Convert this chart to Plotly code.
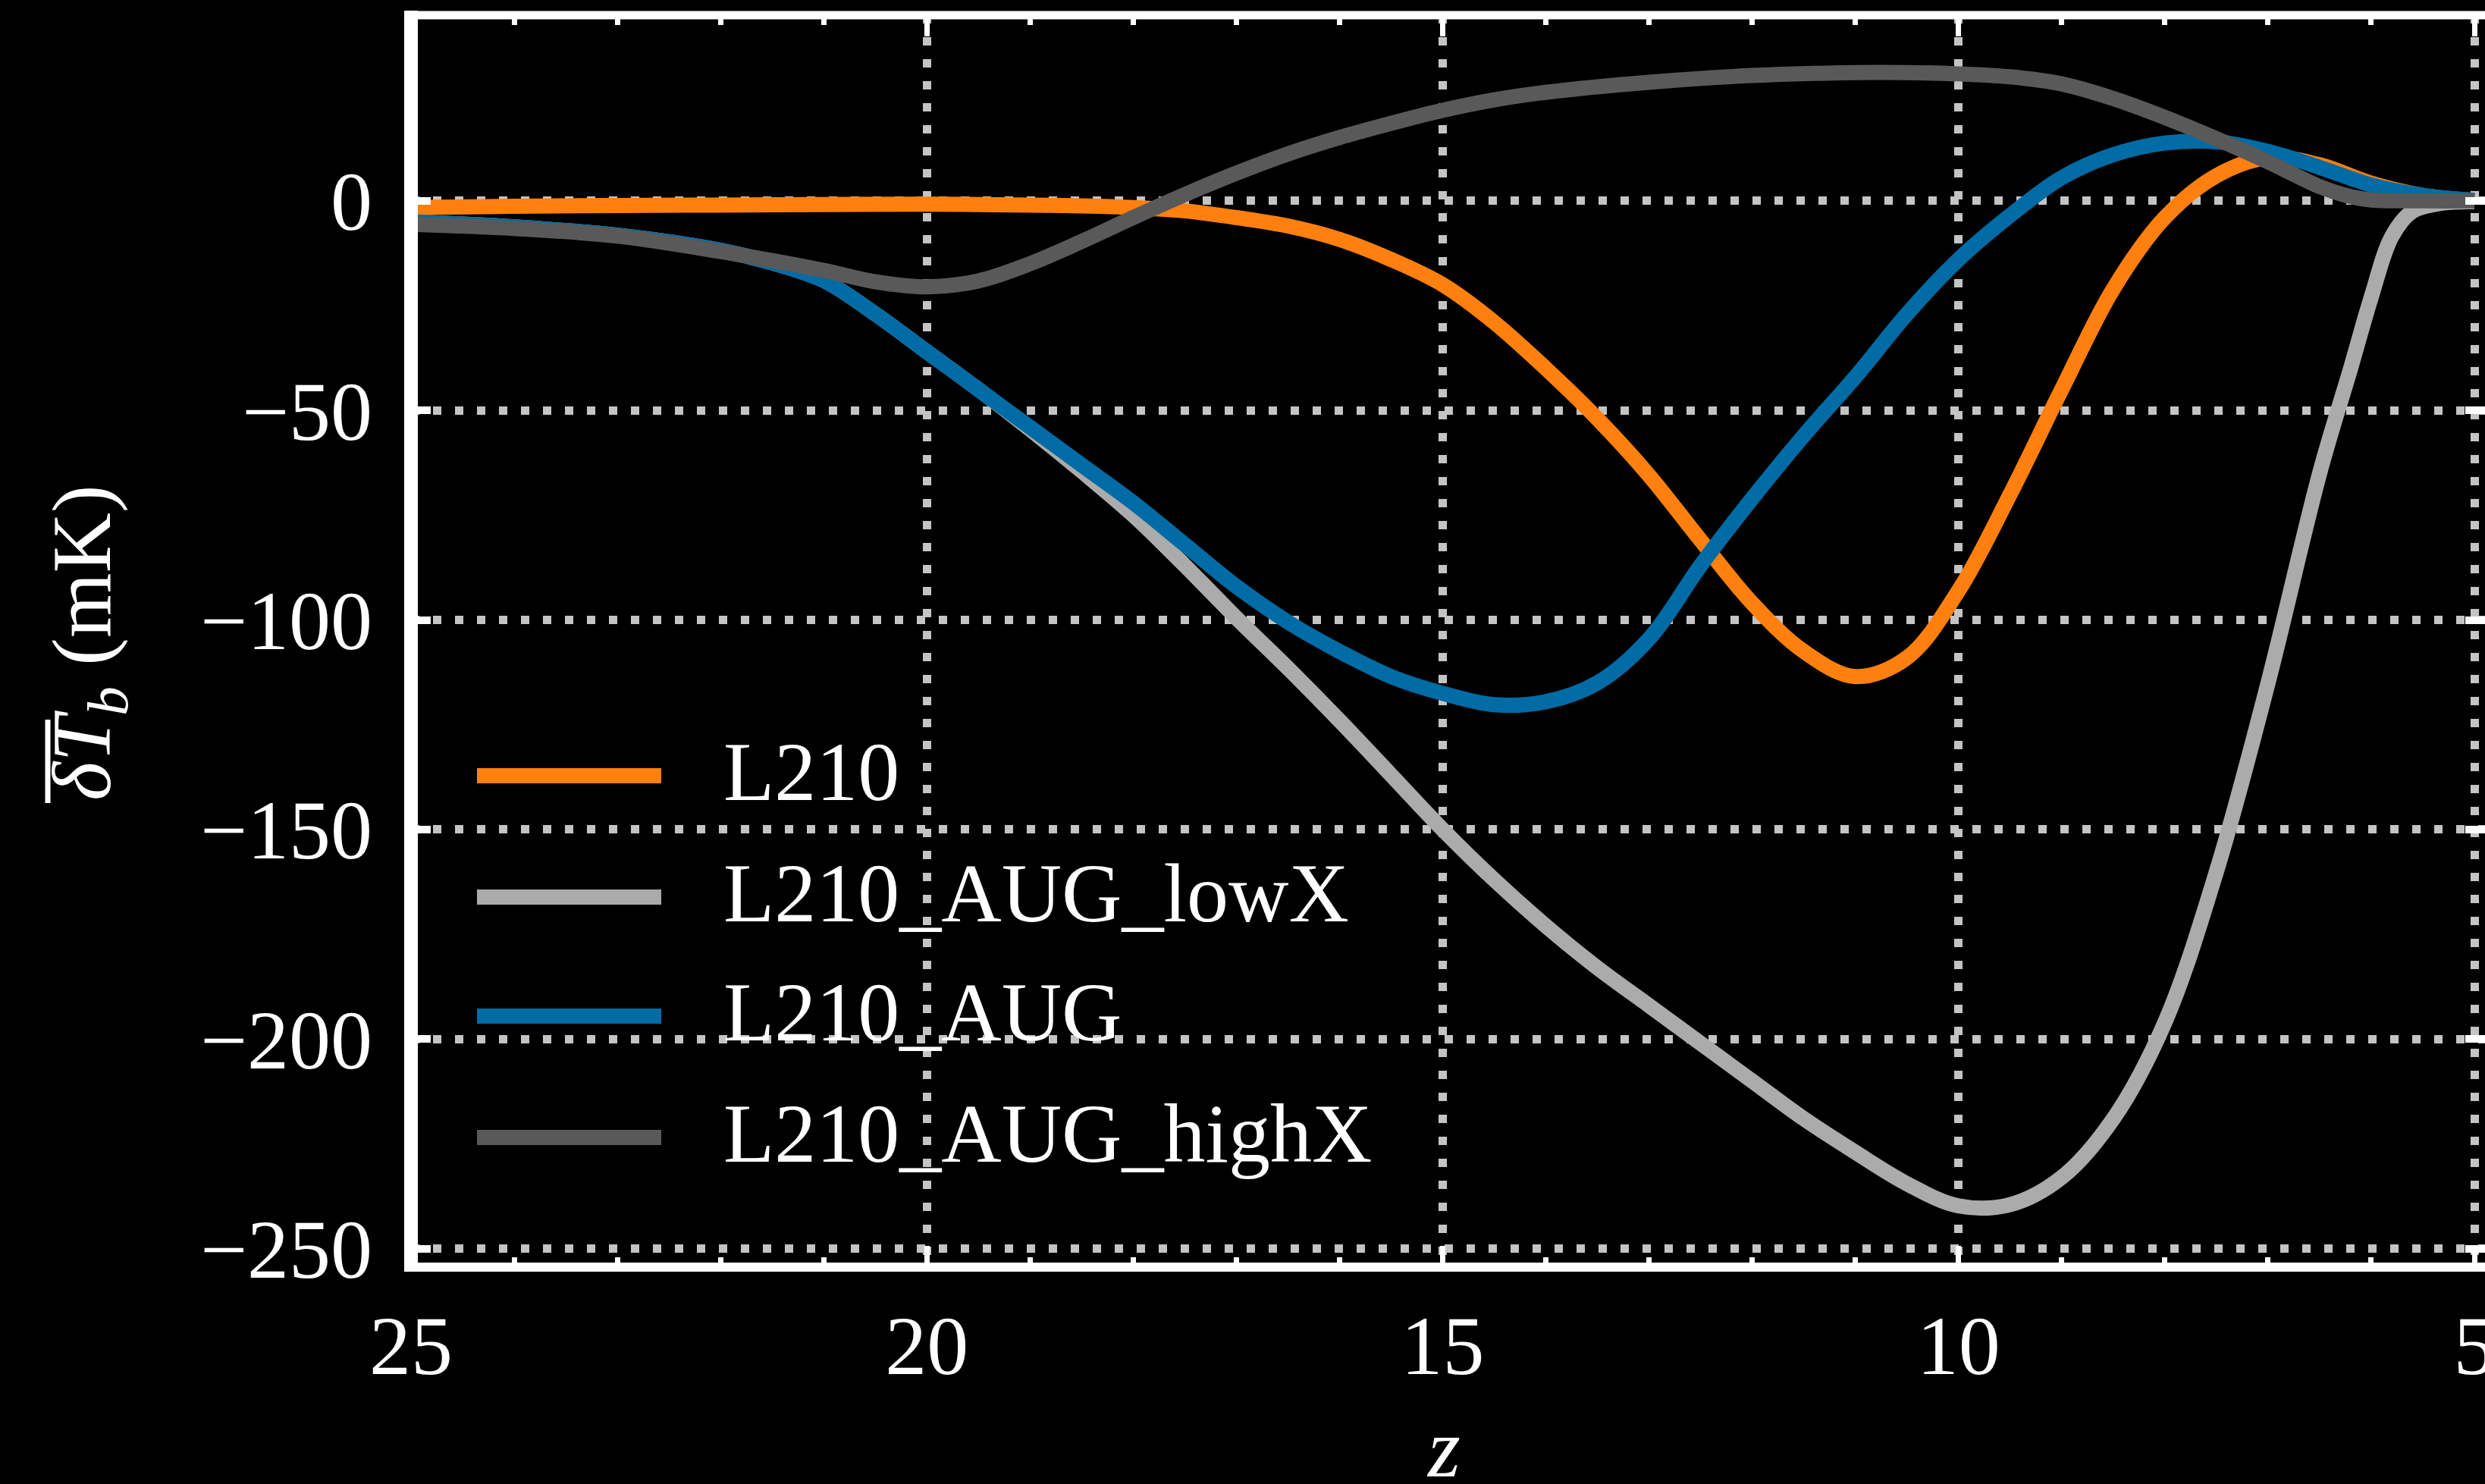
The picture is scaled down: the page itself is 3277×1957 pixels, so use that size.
import plotly.graph_objects as go

# ---- data: mean 21-cm brightness temperature vs redshift ----
z_l210 = [25, 24, 23, 22, 21, 20, 19, 18.5, 18, 17.5, 17, 16.5, 16, 15.5, 15, 14.5, 14, 13.5, 13,
          12.5, 12, 11.5, 11, 10.5, 10, 9.5, 9, 8.5, 8, 7.5, 7, 6.5, 6, 5.5, 5]
t_l210 = [-1.6, -1.3, -1.1, -1.0, -0.9, -0.8, -1.0, -1.2, -1.6, -2.4, -4.0, -6.0, -9.2, -14.0, -20.0,
          -29.0, -40.0, -52.0, -65.5, -81.0, -96.0, -107.5, -113.5, -109.0, -93.0, -70.0, -45.0, -21.0,
          -4.0, 6.0, 10.3, 8.6, 4.2, 1.3, 0.1]

z_lowx = [25, 24, 23, 22, 21.5, 21, 20.5, 20, 19.5, 19, 18.5, 18, 17.5, 17, 16.5, 16, 15.5, 15, 14.5,
          14, 13.5, 13, 12.5, 12, 11.5, 11, 10.5, 10, 9.5, 9, 8.5, 8, 7.5, 7, 6.5, 6.2, 6, 5.8, 5.6,
          5.3, 5]
t_lowx = [-5.0, -6.2, -8.2, -11.8, -14.8, -19.0, -27.0, -36.0, -45.0, -54.5, -64.5, -75.0, -87.0,
          -99.5, -111.5, -124.0, -137.0, -150.0, -162.0, -173.0, -183.0, -192.0, -201.0, -210.0,
          -219.0, -227.0, -234.5, -239.8, -239.5, -233.0, -219.0, -196.0, -160.0, -115.0, -65.0,
          -40.0, -23.0, -8.5, -2.5, -0.5, -0.2]

z_aug = [25, 24, 23, 22, 21.5, 21, 20.5, 20, 19.5, 19, 18.5, 18, 17.5, 17, 16.5, 16, 15.5, 15, 14.5,
         14, 13.5, 13, 12.5, 12, 11.5, 11, 10.5, 10, 9.5, 9, 8.5, 8, 7.5, 7, 6.5, 6, 5.5, 5]
t_aug = [-5.0, -6.2, -8.2, -11.8, -14.8, -19.0, -27.0, -36.0, -45.0, -54.0, -63.0, -72.0, -82.0,
         -92.0, -100.5, -107.5, -113.5, -117.5, -120.2, -119.5, -115.0, -104.5, -87.0, -71.0, -56.0,
         -42.0, -27.0, -14.0, -3.5, 5.5, 11.0, 13.8, 14.1, 11.8, 8.0, 3.8, 1.3, 0.1]

z_highx = [25, 24, 23, 22, 21, 20.5, 20, 19.5, 19, 18.5, 18, 17.5, 17, 16.5, 16, 15.5, 15, 14.5, 14,
           13, 12, 11, 10.5, 10, 9.5, 9, 8.5, 8, 7.5, 7, 6.5, 6.2, 6, 5.5, 5]
t_highx = [-5.6, -6.6, -8.4, -12.1, -16.6, -19.3, -20.5, -19.1, -15.0, -9.7, -4.0, 1.5, 6.6, 11.2,
           15.1, 18.5, 21.6, 24.1, 25.9, 28.3, 29.9, 30.6, 30.6, 30.3, 29.6, 27.9, 24.4, 19.9, 14.8,
           9.3, 3.4, 1.0, 0.2, 0.0, 0.0]

series_names = ["L210", "L210_AUG_lowX", "L210_AUG", "L210_AUG_highX"]
series_colors = ["#FF800E", "#ABABAB", "#006BA4", "#595959"]
series_z = [z_l210, z_lowx, z_aug, z_highx]
series_t = [t_l210, t_lowx, t_aug, t_highx]

x_tickvals = [25, 20, 15, 10, 5]
x_ticktext = ["25", "20", "15", "10", "5"]
y_tickvals = [0, -50, -100, -150, -200, -250]
y_ticktext = ["0", "\u221250", "\u2212100", "\u2212150", "\u2212200", "\u2212250"]

# ---- page geometry (pixels) ----
W, H = 3277, 1957
ML, MR, MT, MB = 542, 0, 20, 286
PW, PH = W - ML - MR, H - MT - MB
PX_PER_Z = 136.05
X_RANGE = [25, 25 - PW / PX_PER_Z]
Y_RANGE = [-254.4, 44.3]

FONT = "Liberation Serif"
FS = 110
GRID = dict(showgrid=True, gridcolor="#c4c4c4", gridwidth=11, griddash="11px,18px")


def px_x(px):
    return (px - ML) / PW


def px_y(py):
    return (H - MB - py) / PH


fig = go.Figure()
for name, color, zs, ts in zip(series_names, series_colors, series_z, series_t):
    fig.add_trace(go.Scatter(
        x=zs, y=ts, mode="lines", name=name, showlegend=False,
        line=dict(color=color, width=20, shape="spline", smoothing=1.0),
    ))

fig.update_xaxes(
    range=X_RANGE, tickmode="array", tickvals=x_tickvals, ticktext=x_ticktext,
    ticks="inside", ticklen=28, tickwidth=7, tickcolor="white", mirror="ticks",
    minor=dict(tickmode="linear", tick0=5, dtick=1, ticks="inside", ticklen=13,
               tickwidth=7, tickcolor="white", showgrid=False),
    showline=False, zeroline=False, ticklabelstandoff=30, ticklabeloverflow="allow",
    tickfont=dict(family=FONT, size=FS, color="white"), **GRID,
)
fig.update_yaxes(
    range=Y_RANGE, tickmode="array", tickvals=y_tickvals, ticktext=y_ticktext,
    ticks="inside", ticklen=26, tickwidth=10, tickcolor="white", mirror="ticks",
    showline=False, zeroline=False, ticklabelstandoff=50, ticklabeloverflow="allow",
    tickfont=dict(family=FONT, size=FS, color="white"), **GRID,
)

# frame: left, top and bottom spines centred on the plot edges
shapes = [
    dict(type="line", xref="paper", yref="paper", x0=0, x1=0,
         y0=-6 / PH, y1=1 + 6 / PH, line=dict(color="white", width=18), layer="above"),
    dict(type="line", xref="paper", yref="paper", x0=-9 / PW, x1=1,
         y0=1, y1=1, line=dict(color="white", width=11), layer="above"),
    dict(type="line", xref="paper", yref="paper", x0=-9 / PW, x1=1,
         y0=0, y1=0, line=dict(color="white", width=12), layer="above"),
]

# legend: long line keys with labels
annotations = []
legend_rows = [1023, 1183, 1340, 1500]
for name, color, row in zip(series_names, series_colors, legend_rows):
    shapes.append(dict(type="line", xref="paper", yref="paper", x0=px_x(629), x1=px_x(872),
                       y0=px_y(row), y1=px_y(row), line=dict(color=color, width=20),
                       layer="above"))
    annotations.append(dict(xref="paper", yref="paper", x=px_x(952), y=px_y(row - 5),
                            xanchor="left", yanchor="middle", showarrow=False, text=name,
                            font=dict(family=FONT, size=FS, color="white")))

# y-axis title, with the bar over the delta-T symbol
annotations.append(dict(
    xref="paper", yref="paper", x=px_x(116), y=px_y(848), xanchor="center", yanchor="middle",
    showarrow=False, textangle=-90,
    text="<i>\u03b4T</i><sub><i>b</i></sub> (mK)",
    font=dict(family=FONT, size=FS, color="white")))
shapes.append(dict(type="line", xref="paper", yref="paper", x0=px_x(63), x1=px_x(63),
                   y0=px_y(1059), y1=px_y(949), line=dict(color="white", width=7),
                   layer="above"))

# x-axis title
annotations.append(dict(
    xref="paper", yref="paper", x=px_x(1903), y=px_y(1910), xanchor="center", yanchor="middle",
    showarrow=False, text="<i>z</i>", font=dict(family=FONT, size=FS, color="white")))

fig.update_layout(
    width=W, height=H, margin=dict(l=ML, r=MR, t=MT, b=MB, pad=0, autoexpand=False),
    paper_bgcolor="black", plot_bgcolor="black",
    font=dict(family=FONT, size=FS, color="white"),
    shapes=shapes, annotations=annotations, showlegend=False,
)

fig.write_html("out.html")
